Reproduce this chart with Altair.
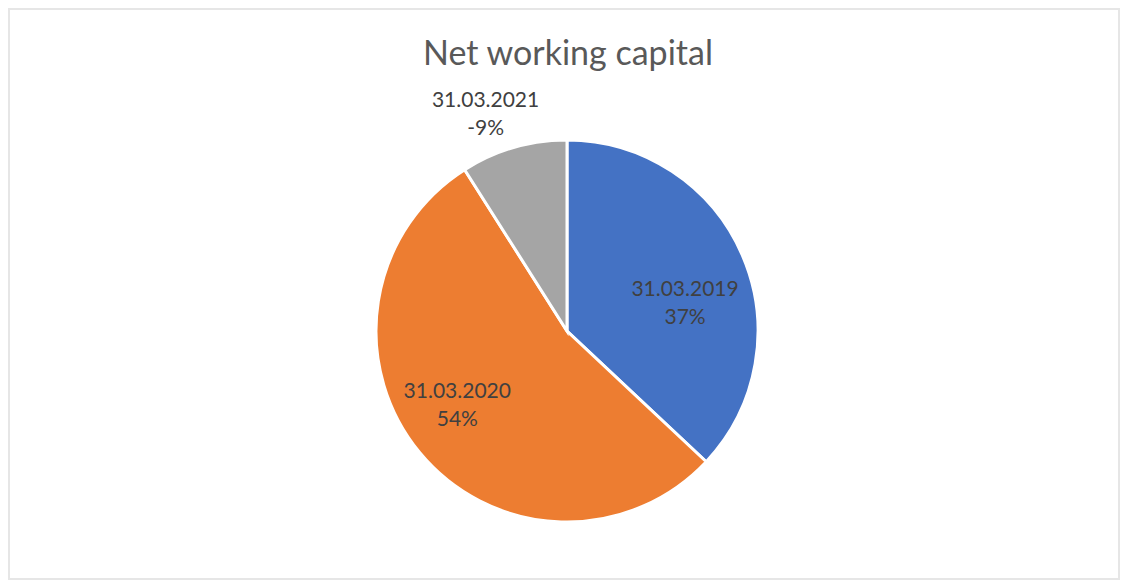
import altair as alt
import pandas as pd

# Net working capital by reporting date (share of total, %)
dates = ["31.03.2019", "31.03.2020", "31.03.2021"]
shares = [37, 54, -9]
colors = ["#4472C4", "#ED7D31", "#A5A5A5"]

df = pd.DataFrame({
    "date": dates,
    "share": shares,
    "size": [abs(v) for v in shares],
    "order": list(range(len(dates))),
})
df["label"] = [f"{d}\n{v}%" for d, v in zip(dates, shares)]

CX, CY = 558, 322  # pie centre inside the framed view
R = 191

pie = alt.Chart(df).mark_arc(
    radius=R, stroke="white", strokeWidth=3, x=CX, y=CY
).encode(
    theta=alt.Theta("size:Q", stack=True),
    order=alt.Order("order:Q"),
    color=alt.Color("date:N", scale=alt.Scale(domain=dates, range=colors), legend=None),
)

# label anchors at the middle angle of each slice
labels = alt.Chart(df).transform_stack(
    stack="size", groupby=[], as_=["t0", "t1"], sort=[alt.SortField("order")]
).transform_calculate(mid="(datum.t0 + datum.t1) / 2")

text_style = dict(
    font="Lato", fontSize=21, color="#404040", lineBreak="\n",
    lineHeight=28, align="center", baseline="middle", x=CX, y=CY,
)


def label_layer(date, radius, dx, dy):
    return labels.transform_filter(alt.datum.date == date).mark_text(
        radius=radius, dx=dx, dy=dy, **text_style
    ).encode(
        theta=alt.Theta("mid:Q", stack=None),
        text="label:N",
    )


frame = alt.Chart(alt.Data(values=[{}])).mark_rect(
    fill=None, stroke="#e6e6e6", strokeWidth=2
).encode(
    x=alt.value(0), x2=alt.value("width"), y=alt.value(0), y2=alt.value("height")
)

chart = alt.layer(
    frame,
    pie,
    label_layer(dates[0], 121, 7, 7),
    label_layer(dates[1], 132, -8, -23),
    label_layer(dates[2], 231, -17, -8),
).properties(
    width=1110,
    height=570,
    padding={"left": 9, "top": 9, "right": 4, "bottom": 2},
    autosize="none",
    background="white",
    title=alt.TitleParams(
        "Net working capital", font="Lato", fontSize=34, fontWeight="normal",
        color="#595959", anchor="middle", offset=-64, dx=4,
    ),
).configure_view(stroke=None)

chart.save("out.html", embed_options={"renderer": "svg", "actions": False})
